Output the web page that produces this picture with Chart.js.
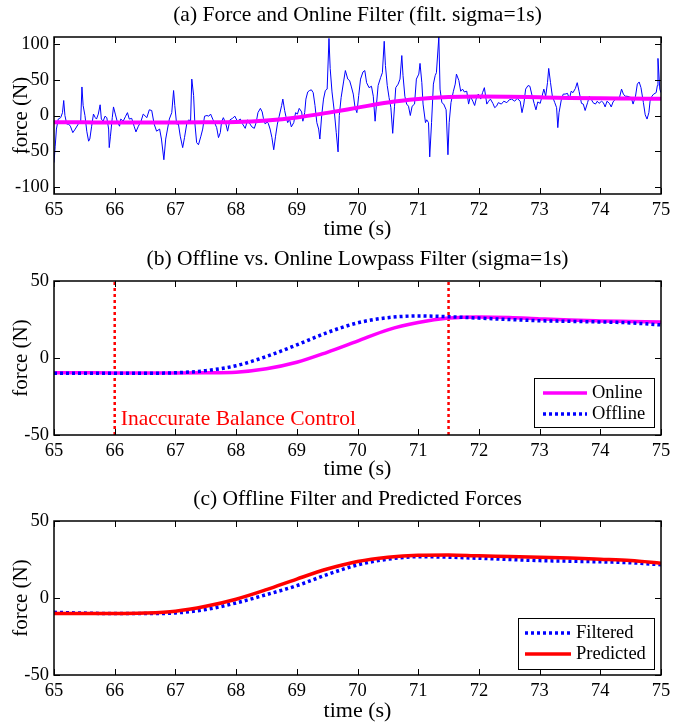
<!DOCTYPE html>
<html>
<head>
<meta charset="utf-8">
<script src="https://cdn.jsdelivr.net/npm/chart.js@4.4.1/dist/chart.umd.min.js"></script>
<style>
  html, body { margin: 0; padding: 0; background: #fff; }
  body { width: 686px; height: 724px; position: relative; overflow: hidden; }
  canvas { position: absolute; left: 0; }
</style>
</head>
<body>
<canvas id="ca" width="686" height="240" style="top:0px"></canvas>
<canvas id="cb" width="686" height="240" style="top:240px"></canvas>
<canvas id="cc" width="686" height="244" style="top:480px"></canvas>
<script>
// ---------- data ----------
const xTicks = [65, 66, 67, 68, 69, 70, 71, 72, 73, 74, 75];
const yTicksA = [-100, -50, 0, 50, 100];
const yTicksBC = [-50, 0, 50];

// raw measured force (panel a)
const tRaw = [65.00,65.02,65.04,65.07,65.11,65.14,65.16,65.18,65.21,65.24,65.27,65.31,65.35,65.40,65.44,65.46,65.48,65.51,65.54,65.57,65.59,65.62,65.65,65.68,65.70,65.73,65.76,65.78,65.81,65.84,65.87,65.90,65.91,65.93,65.96,65.98,66.01,66.04,66.08,66.10,66.14,66.18,66.21,66.24,66.28,66.32,66.35,66.39,66.43,66.47,66.53,66.57,66.61,66.65,66.69,66.74,66.77,66.81,66.84,66.87,66.90,66.94,66.97,66.99,67.02,67.05,67.08,67.12,67.15,67.19,67.22,67.25,67.27,67.30,67.32,67.35,67.38,67.42,67.45,67.48,67.52,67.55,67.58,67.62,67.65,67.68,67.71,67.74,67.76,67.79,67.83,67.86,67.90,67.94,67.98,68.02,68.07,68.10,68.15,68.19,68.23,68.26,68.30,68.33,68.36,68.40,68.43,68.45,68.48,68.51,68.53,68.56,68.59,68.62,68.65,68.68,68.71,68.75,68.77,68.80,68.82,68.85,68.88,68.91,68.95,68.98,69.01,69.04,69.08,69.10,69.13,69.15,69.18,69.21,69.24,69.27,69.30,69.33,69.36,69.38,69.41,69.44,69.47,69.50,69.53,69.55,69.58,69.62,69.65,69.68,69.70,69.73,69.77,69.80,69.84,69.87,69.90,69.93,69.96,69.99,70.02,70.05,70.09,70.12,70.15,70.19,70.23,70.26,70.29,70.31,70.34,70.38,70.41,70.44,70.46,70.49,70.52,70.55,70.58,70.61,70.63,70.67,70.70,70.73,70.75,70.78,70.81,70.84,70.87,70.90,70.94,70.97,71.01,71.03,71.06,71.08,71.12,71.14,71.17,71.19,71.22,71.25,71.28,71.30,71.34,71.36,71.39,71.42,71.46,71.49,71.51,71.54,71.58,71.61,71.63,71.67,71.70,71.73,71.76,71.80,71.83,71.86,71.90,71.93,71.96,71.99,72.03,72.06,72.09,72.13,72.16,72.19,72.23,72.26,72.29,72.32,72.37,72.41,72.46,72.50,72.54,72.59,72.63,72.68,72.71,72.74,72.77,72.81,72.84,72.87,72.91,72.94,72.97,73.01,73.04,73.07,73.10,73.13,73.15,73.18,73.21,73.25,73.28,73.30,73.32,73.36,73.39,73.42,73.46,73.49,73.52,73.55,73.59,73.62,73.65,73.69,73.72,73.75,73.79,73.82,73.85,73.88,73.92,73.95,73.98,74.02,74.05,74.08,74.11,74.15,74.18,74.21,74.25,74.28,74.31,74.35,74.38,74.41,74.44,74.48,74.51,74.54,74.58,74.61,74.64,74.67,74.71,74.74,74.77,74.80,74.82,74.85,74.88,74.92,74.94,74.95,74.98,75.00];
const fRaw = [-66,-43,-19,-5,-3,4,21,0,-12,-12,-15,-24,-19,-12,-8,40,14,0,-22,-36,-33,-15,2,-3,-5,2,15,-5,-8,-1,-3,-19,-45,-29,-3,12,2,-8,-15,-5,-8,-1,4,-5,-4,-15,-23,-15,-9,2,-3,8,7,-12,-22,-19,-33,-62,-33,-19,-5,4,35,14,-12,-12,-29,-45,-31,-10,-6,-8,51,28,-10,-38,-41,-29,-19,-1,0,-1,2,-6,-11,-17,-31,-24,-9,-3,-11,-22,-6,-4,-1,-8,-5,-11,-18,-6,-12,-16,-18,-10,4,10,5,-4,-12,-9,-11,-19,-31,-48,-29,-12,-1,14,23,7,-1,-10,-5,-16,-10,4,2,10,5,-8,4,23,33,35,36,32,14,-10,-19,-33,0,23,35,37,108,66,33,4,-24,-51,0,25,47,63,51,49,40,30,11,4,28,51,61,63,46,39,41,27,-8,13,42,53,60,104,70,42,25,11,-25,13,39,44,51,84,56,27,16,13,0,13,16,51,58,73,46,16,-10,-6,-10,-58,-10,44,56,60,110,37,18,16,8,-55,-10,18,34,44,58,49,34,37,33,34,16,27,20,14,25,30,23,32,39,16,20,23,17,11,13,18,16,20,18,22,23,20,24,20,4,16,37,42,41,30,17,8,19,17,27,37,27,46,66,46,27,18,11,-17,4,23,30,30,31,23,34,32,38,46,34,17,16,7,18,27,23,18,16,20,17,20,18,12,20,17,12,19,23,25,23,37,30,27,27,26,25,16,27,44,47,39,18,1,-5,4,20,27,30,32,42,80,37,32];

// smoothed curves (every 0.5 s)
const tSmooth = [65.0,65.5,66.0,66.5,67.0,67.5,68.0,68.5,69.0,69.5,70.0,70.5,71.0,71.5,72.0,72.5,73.0,73.5,74.0,74.5,75.0];
const onlineForce = [-9.5,-9.6,-9.7,-9.7,-9.7,-9.6,-9.2,-7.0,-2.8,3.7,11.0,18.3,23.0,25.9,26.7,26.3,25.4,24.6,24.1,23.7,23.3];
const offlineForce = [-9.9,-9.9,-9.9,-9.9,-9.6,-8.2,-5.0,1.0,8.5,16.5,22.8,26.2,27.3,26.8,25.9,25.0,24.2,23.8,23.4,22.8,21.5];
const filteredForce = [-9.3,-9.8,-10.1,-10.1,-9.7,-7.5,-3.2,2.2,8.0,15.2,21.5,25.2,26.8,26.5,25.8,25.0,24.3,23.9,23.5,22.9,21.6];
const predictedForce = [-10.1,-10.1,-10.1,-9.8,-8.6,-5.4,-0.8,5.4,12.3,18.8,23.7,26.5,27.8,28.0,27.4,27.0,26.5,26.0,25.2,24.3,22.6];

// markers in panel (b)
const markerTimes = [66, 71.5];
const noteText = 'Inaccurate Balance Control';
const noteT = 66.1, noteF = -40;

// ---------- helpers ----------
const pts = (xs, ys) => xs.map((x, i) => ({x: x, y: ys[i]}));
Chart.defaults.font.family = '"Liberation Serif", "Times New Roman", serif';
Chart.defaults.color = '#000';

function makeScales(yMin, yMax, yTicks, xAxisH, xTitlePad) {
  return {
    x: {
      type: 'linear', min: 65, max: 75,
      afterBuildTicks: s => { s.ticks = xTicks.map(v => ({value: v})); },
      afterFit: s => { s.height = xAxisH; },
      grid: {display: false, drawTicks: false}, border: {display: false},
      ticks: {padding: 5, maxRotation: 0, autoSkip: false, font: {size: 18.5}, color: '#000'},
      title: {display: true, text: 'time (s)', color: '#000', font: {size: 22, lineHeight: 1}, padding: {top: 0, bottom: xTitlePad}}
    },
    y: {
      type: 'linear', min: yMin, max: yMax,
      afterBuildTicks: s => { s.ticks = yTicks.map(v => ({value: v})); },
      afterFit: s => { s.width = 54; },
      grid: {display: false, drawTicks: false}, border: {display: false},
      ticks: {padding: 5, font: {size: 18.5}, color: '#000'},
      title: {display: true, text: 'force (N)', color: '#000', font: {size: 21, lineHeight: 1.2}, padding: {top: 9, bottom: 0}}
    }
  };
}

const framePlugin = {
  id: 'frame',
  afterDraw(chart, args, opts) {
    const {ctx, chartArea: a, scales} = chart;
    ctx.save();
    // note text
    if (opts.note) {
      ctx.fillStyle = opts.note.color;
      ctx.font = opts.note.font;
      ctx.textBaseline = 'middle';
      ctx.textAlign = 'left';
      ctx.fillText(opts.note.text, scales.x.getPixelForValue(opts.note.x), scales.y.getPixelForValue(opts.note.y));
    }
    // inward ticks
    ctx.strokeStyle = '#000';
    ctx.lineWidth = 1;
    const L = 6;
    ctx.beginPath();
    scales.x.ticks.forEach(t => {
      const px = Math.round(scales.x.getPixelForValue(t.value)) + 0.5;
      ctx.moveTo(px, a.bottom); ctx.lineTo(px, a.bottom - L);
      ctx.moveTo(px, a.top); ctx.lineTo(px, a.top + L);
    });
    scales.y.ticks.forEach(t => {
      const py = Math.round(scales.y.getPixelForValue(t.value)) + 0.5;
      ctx.moveTo(a.left, py); ctx.lineTo(a.left + L, py);
      ctx.moveTo(a.right, py); ctx.lineTo(a.right - L, py);
    });
    ctx.stroke();
    // box
    ctx.lineWidth = 1.5;
    ctx.strokeRect(a.left, a.top, a.right - a.left, a.bottom - a.top);
    // legend
    const lg = opts.legend;
    if (lg) {
      const bx = Math.round(a.right - lg.right - lg.w), by = Math.round(a.bottom - lg.bottom - lg.h);
      ctx.fillStyle = '#fff';
      ctx.fillRect(bx, by, lg.w, lg.h);
      ctx.lineWidth = 1;
      ctx.strokeStyle = '#000';
      ctx.strokeRect(bx + 0.5, by + 0.5, lg.w, lg.h);
      chart.data.datasets.filter(d => d.inLegend).forEach((d, i) => {
        const yy = by + lg.row0 + i * lg.rowH;
        ctx.save();
        ctx.strokeStyle = d.borderColor;
        ctx.lineWidth = d.borderWidth;
        ctx.setLineDash(d.borderDash || []);
        ctx.beginPath();
        ctx.moveTo(bx + lg.lx0, yy); ctx.lineTo(bx + lg.lx1, yy);
        ctx.stroke();
        ctx.restore();
        ctx.fillStyle = '#000';
        ctx.font = '18.5px "Liberation Serif"';
        ctx.textBaseline = 'middle';
        ctx.textAlign = 'left';
        ctx.fillText(d.label, bx + lg.tx, yy);
      });
    }
    ctx.restore();
  }
};

function baseOptions(titleText, titlePad, scales, frameOpts) {
  return {
    responsive: false, maintainAspectRatio: false, devicePixelRatio: 1, animation: false, events: [],
    layout: {padding: {left: 0, right: 25, top: 0, bottom: 0}},
    elements: {point: {radius: 0}},
    scales: scales,
    plugins: {
      legend: {display: false}, tooltip: {enabled: false},
      title: {display: true, fullSize: false, text: titleText, color: '#000', font: {size: 21.5, weight: 'normal', lineHeight: 1}, padding: titlePad},
      frame: frameOpts
    }
  };
}

// ---------- panel (a) ----------
new Chart(document.getElementById('ca'), {
  type: 'line',
  data: {datasets: [
    {label: 'Online', data: pts(tSmooth, onlineForce), borderColor: '#ff00ff', borderWidth: 4, cubicInterpolationMode: 'monotone', order: 0},
    {label: 'Force', data: pts(tRaw, fRaw), borderColor: '#0000ff', borderWidth: 1, tension: 0, order: 1}
  ]},
  options: baseOptions('(a) Force and Online Filter (filt. sigma=1s)', {top: 5, bottom: 10.5},
    makeScales(-110, 110, yTicksA, 46, 0), {}),
  plugins: [framePlugin]
});

// ---------- panel (b) ----------
const markerSets = markerTimes.map(t => ({
  label: 'marker', data: [{x: t, y: -50}, {x: t, y: 50}], borderColor: '#ff0000', borderWidth: 2.5,
  borderDash: [3, 3], order: 2
}));
new Chart(document.getElementById('cb'), {
  type: 'line',
  data: {datasets: [
    {label: 'Online', data: pts(tSmooth, onlineForce), borderColor: '#ff00ff', borderWidth: 3.5, cubicInterpolationMode: 'monotone', order: 1, inLegend: true},
    {label: 'Offline', data: pts(tSmooth, offlineForce), borderColor: '#0000ff', borderWidth: 3.5, borderDash: [3, 3], cubicInterpolationMode: 'monotone', order: 0, inLegend: true}
  ].concat(markerSets)},
  options: baseOptions('(b) Offline vs. Online Lowpass Filter (sigma=1s)', {top: 9, bottom: 10.5},
    makeScales(-50, 50, yTicksBC, 45, 0),
    {legend: {w: 120, h: 49, right: 7, bottom: 8, row0: 15, rowH: 21, lx0: 9, lx1: 53, tx: 58},
     note: {text: noteText, x: noteT, y: noteF, color: '#ff0000', font: '21.5px "Liberation Serif"'}}),
  plugins: [framePlugin]
});

// ---------- panel (c) ----------
new Chart(document.getElementById('cc'), {
  type: 'line',
  data: {datasets: [
    {label: 'Filtered', data: pts(tSmooth, filteredForce), borderColor: '#0000ff', borderWidth: 3.5, borderDash: [3, 3], cubicInterpolationMode: 'monotone', order: 1, inLegend: true},
    {label: 'Predicted', data: pts(tSmooth, predictedForce), borderColor: '#ff0000', borderWidth: 3.5, cubicInterpolationMode: 'monotone', order: 0, inLegend: true}
  ]},
  options: baseOptions('(c) Offline Filter and Predicted Forces', {top: 9, bottom: 10.5},
    makeScales(-50, 50, yTicksBC, 49, 2),
    {legend: {w: 136, h: 51, right: 7, bottom: 6, row0: 15, rowH: 21, lx0: 7, lx1: 53, tx: 58}}),
  plugins: [framePlugin]
});
</script>
</body>
</html>
